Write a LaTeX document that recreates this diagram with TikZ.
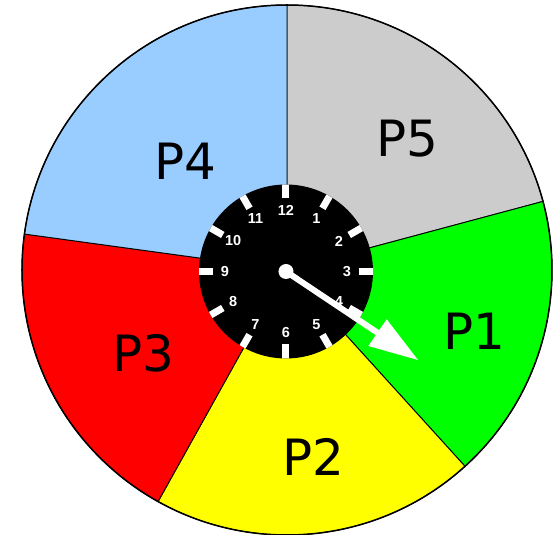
\documentclass[tikz,border=0pt]{standalone}
\usepackage{fontspec}
\setmainfont{DejaVu Sans}
\newfontfamily\clockfont{Liberation Sans}
\definecolor{pfour}{RGB}{153,204,255}
\definecolor{pfive}{RGB}{204,204,204}
\definecolor{pone}{RGB}{0,255,0}
\definecolor{ptwo}{RGB}{255,255,0}
\definecolor{pthree}{RGB}{255,0,0}
\begin{document}
\begin{tikzpicture}[x=1pt,y=1pt,
  sector/.style={draw=black, line width=0.9pt},
  plabel/.style={font=\fontsize{50}{50}\selectfont, inner sep=0pt, text=black},
  num/.style={text=white, font=\clockfont\bfseries\fontsize{14.5}{14.5}\selectfont, inner sep=0pt},
  ticks/.style={white, line width=7pt},
  hand/.style={white, line width=6pt}]
\useasboundingbox (-287,-265) rectangle (271,270);
\def\R{265}
\path[sector, fill=pfive] (0,0) -- (15:\R) arc[start angle=15, end angle=90, radius=\R] -- cycle;
\path[sector, fill=pone] (0,0) -- (-47.8:\R) arc[start angle=-47.8, end angle=15, radius=\R] -- cycle;
\path[sector, fill=ptwo] (0,0) -- (-119.1:\R) arc[start angle=-119.1, end angle=-47.8, radius=\R] -- cycle;
\path[sector, fill=pthree] (0,0) -- (172.2:\R) arc[start angle=172.2, end angle=240.9, radius=\R] -- cycle;
\path[sector, fill=pfour] (0,0) -- (90:\R) arc[start angle=90, end angle=172.2, radius=\R] -- cycle;
\draw[line width=1.5pt] (0,0) circle (\R);
\node[plabel] (p1) at (187,-61.7) {P1};
\node[plabel] (p2) at (26.3,-186.7) {P2};
\node[plabel] (p3) at (-144,-83.5) {P3};
\node[plabel] (p4) at (-101.5,109) {P4};
\node[plabel] (p5) at (120.7,131.7) {P5};
% clock
\coordinate (c) at (-1,-1.5);
\fill[black] (c) circle (87);
\begin{scope}
\clip (c) circle (87);
\foreach \a in {0,30,...,330}
  \draw[ticks, shift={(c)}] (\a:73) -- (\a:90);
\end{scope}
\foreach \n [evaluate=\n as \a using 90-30*\n] in {1,...,12}
  \node[num] (n\n) at ([shift={(c)}]\a:61) {\n};
% hand
\coordinate (hb) at (90.5,-62.7);
\coordinate (tip) at (131,-90);
\coordinate (b1) at (99.7,-49.3);
\coordinate (b2) at (81.3,-76);
\draw[hand] (c) -- (hb);
\fill[white] (c) circle (7.5);
\fill[white] (b1) -- (tip) -- (b2) -- cycle;
\end{tikzpicture}
\end{document}
